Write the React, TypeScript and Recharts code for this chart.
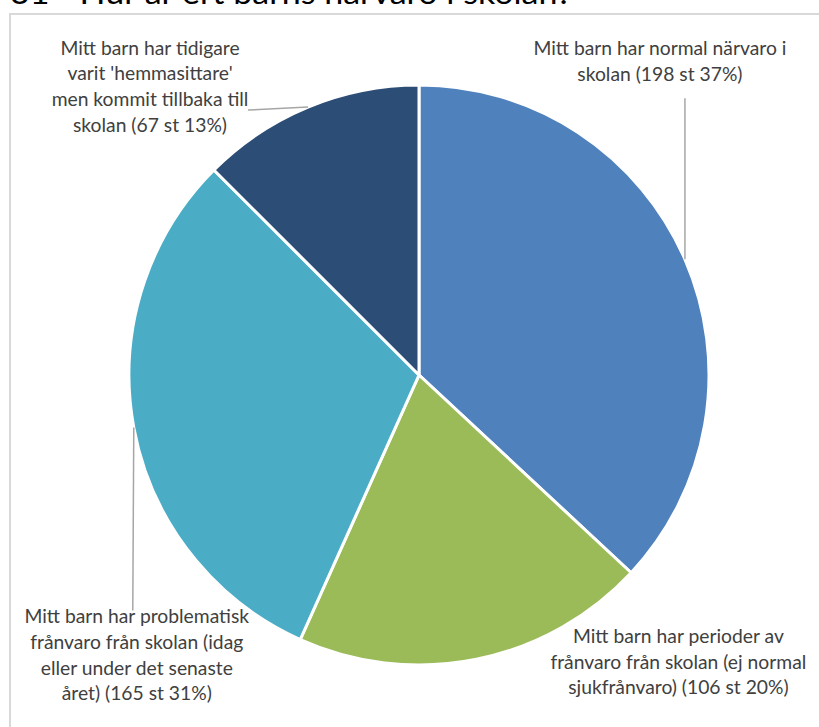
import React from "react";
import { PieChart, Pie, Cell } from "recharts";

const categories = [
  "Mitt barn har normal närvaro i skolan",
  "Mitt barn har perioder av frånvaro från skolan (ej normal sjukfrånvaro)",
  "Mitt barn har problematisk frånvaro från skolan (idag eller under det senaste året)",
  "Mitt barn har tidigare varit 'hemmasittare' men kommit tillbaka till skolan",
];
const counts = [198, 106, 165, 67];
const percents = [37, 20, 31, 13];
const labelLines: string[][] = [
  ["Mitt barn har normal närvaro i", "skolan (198 st 37%)"],
  ["Mitt barn har perioder av", "frånvaro från skolan (ej normal", "sjukfrånvaro) (106 st 20%)"],
  ["Mitt barn har problematisk", "frånvaro från skolan (idag", "eller under det senaste", "året) (165 st 31%)"],
  ["Mitt barn har tidigare", "varit 'hemmasittare'", "men kommit tillbaka till", "skolan (67 st 13%)"],
];
const colors = ["#4F81BD", "#9BBB59", "#4BACC6", "#2C4D75"];
const title = "31 - Hur är ert barns närvaro i skolan?";

const data = categories.map((name, i) => ({ name, value: counts[i], pct: percents[i] }));

// label layout relative to the slice's edge point
const layout = [
  { dx: -25, firstDy: -212, lineTo: { dx: 0, dy: -161 } },
  { dx: 202, firstDy: -24, lineTo: null },
  { dx: 3, firstDy: 188, lineTo: { dx: -1, dy: 183 } },
  { dx: -158, firstDy: -60, lineTo: { dx: -60, dy: 3 } },
];

const RAD = Math.PI / 180;
const LINE_H = 25.8;

const renderLabel = (props: any) => {
  const { cx, cy, midAngle, outerRadius, index } = props;
  const ex = cx + outerRadius * Math.cos(-midAngle * RAD);
  const ey = cy + outerRadius * Math.sin(-midAngle * RAD);
  const L = layout[index];
  const lines = labelLines[index];
  const tx = ex + L.dx;
  const ty = ey + L.firstDy;
  return (
    <g key={`lbl-${index}`}>
      {L.lineTo && (
        <line
          x1={ex}
          y1={ey}
          x2={ex + L.lineTo.dx}
          y2={ey + L.lineTo.dy}
          stroke="#A6A6A6"
          strokeWidth={1.5}
        />
      )}
      <text
        x={tx}
        y={ty}
        textAnchor="middle"
        fill="#404040"
        fontFamily="Lato, 'Open Sans', sans-serif"
        fontSize={19.3}
      >
        {lines.map((ln, k) => (
          <tspan key={k} x={tx} y={ty + k * LINE_H} dominantBaseline="central">
            {ln}
          </tspan>
        ))}
      </text>
    </g>
  );
};

export default function App() {
  return (
    <div
      style={{
        position: "absolute",
        left: 0,
        top: 0,
        width: 819,
        height: 727,
        overflow: "hidden",
        background: "#fff",
      }}
    >
      <div
        style={{
          position: "absolute",
          left: 9,
          top: 13,
          width: 900,
          height: 900,
          border: "2px solid #D9D9D9",
          boxSizing: "border-box",
        }}
      />
      <svg
        width={819}
        height={30}
        style={{ position: "absolute", left: 0, top: 0 }}
      >
        <text
          x={10}
          y={4}
          fontFamily="Lato, 'Open Sans', sans-serif"
          fontSize={30}
          fill="#000"
          textLength={562}
          lengthAdjust="spacingAndGlyphs"
        >
          {title}
        </text>
      </svg>
      <div style={{ position: "absolute", left: 0, top: 0 }}>
        <PieChart
          width={819}
          height={727}
          margin={{ top: 0, right: 0, bottom: 0, left: 0 }}
        >
          <Pie
            data={data}
            dataKey="value"
            nameKey="name"
            cx={419}
            cy={375}
            outerRadius={290}
            startAngle={90}
            endAngle={-270}
            stroke="#FFFFFF"
            strokeWidth={3}
            label={renderLabel}
            labelLine={false}
            isAnimationActive={false}
          >
            {data.map((d, i) => (
              <Cell key={d.name} fill={colors[i]} />
            ))}
          </Pie>
        </PieChart>
      </div>
    </div>
  );
}
